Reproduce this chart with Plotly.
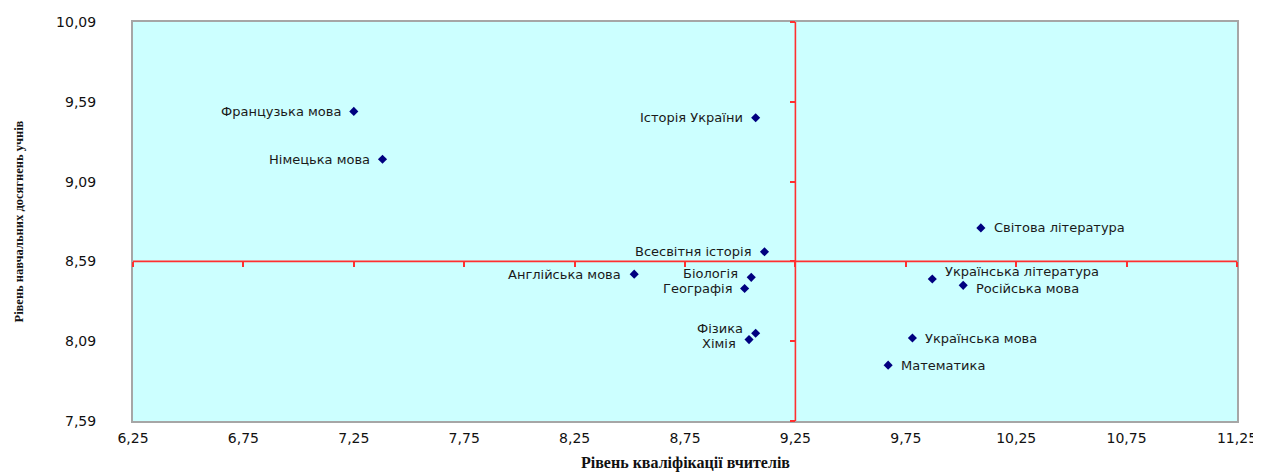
import plotly.graph_objects as go

# ---- data ----
subjects = [
    "Французька мова", "Німецька мова", "Історія України", "Всесвітня історія",
    "Англійська мова", "Біологія", "Географія", "Фізика", "Хімія",
    "Світова література", "Українська література", "Російська мова",
    "Українська мова", "Математика",
]
teacher_qualification = [7.25, 7.38, 9.07, 9.11, 8.52, 9.05, 9.02, 9.07, 9.04,
                         10.09, 9.87, 10.01, 9.78, 9.67]
student_achievement = [9.53, 9.23, 9.49, 8.65, 8.51, 8.49, 8.42, 8.14, 8.10,
                       8.80, 8.48, 8.44, 8.11, 7.94]

x_range = [6.25, 11.25]
y_range = [7.59, 10.09]
cross_x = 9.25   # vertical axis crossing
cross_y = 8.59   # horizontal axis crossing
tick_step = 0.5

x_title = "Рівень кваліфікації вчителів"
y_title = "Рівень навчальних досягнень учнів"

# ---- label placement (style) ----
right_side = {"Світова література", "Українська література", "Російська мова",
              "Українська мова", "Математика"}
label_yshift = {"Біологія": 4, "Фізика": 5, "Українська література": 7,
                "Російська мова": -3, "Хімія": -4}

RED = "#ff3030"
LABEL_FONT = dict(family="DejaVu Sans", size=13, color="#1a1a1a")
TICK_FONT = dict(family="DejaVu Sans", size=14, color="#111111")
TITLE_FONT_X = dict(family="Liberation Serif", size=16, color="#111111")
TITLE_FONT_Y = dict(family="Liberation Serif", size=12.5, color="#111111")

# the page body adds an 8px offset; size the figure so it fills the window
PAGE_OFFSET = 8
FIG_W, FIG_H = 1261 - PAGE_OFFSET, 472 - PAGE_OFFSET

fig = go.Figure()
fig.add_trace(go.Scatter(
    x=teacher_qualification, y=student_achievement, mode="markers",
    marker=dict(symbol="diamond", size=7, color="#000080"),
    text=subjects, hoverinfo="text", showlegend=False,
))
# empty trace to host the crossing axes (their ticks)
fig.add_trace(go.Scatter(x=[], y=[], xaxis="x2", yaxis="y2",
                         showlegend=False, hoverinfo="skip"))

annotations = []
for name, xv, yv in zip(subjects, teacher_qualification, student_achievement):
    on_right = name in right_side
    annotations.append(dict(
        x=xv, y=yv, xref="x", yref="y", text=name, showarrow=False,
        xanchor="left" if on_right else "right", yanchor="middle",
        xshift=11 if on_right else -11, yshift=label_yshift.get(name, 0),
        font=LABEL_FONT,
    ))
annotations.append(dict(
    text="<b>" + y_title + "</b>", xref="paper", yref="paper",
    x=0, y=0.5, xshift=-115, showarrow=False, textangle=-90,
    xanchor="center", yanchor="middle", font=TITLE_FONT_Y,
))
annotations.append(dict(
    text="<b>" + x_title + "</b>", xref="paper", yref="paper",
    x=0.5, y=0, yshift=-42, showarrow=False,
    xanchor="center", yanchor="middle", font=TITLE_FONT_X,
))

shapes = [
    dict(type="line", xref="x", yref="paper", x0=cross_x, x1=cross_x, y0=0, y1=1,
         line=dict(color=RED, width=1.6), layer="above"),
    dict(type="line", xref="paper", yref="y", x0=0, x1=1, y0=cross_y, y1=cross_y,
         line=dict(color=RED, width=1.6), layer="above"),
]

common_axis = dict(showgrid=False, zeroline=False, fixedrange=True, automargin=False)

fig.update_layout(
    width=FIG_W, height=FIG_H,
    margin=dict(l=133 - PAGE_OFFSET, r=24, t=22 - PAGE_OFFSET, b=51, autoexpand=False),
    paper_bgcolor="white", plot_bgcolor="#ccffff",
    separators=", ",
    annotations=annotations,
    shapes=shapes,
    xaxis=dict(range=x_range, tick0=x_range[0], dtick=tick_step, tickformat=".2f",
               showline=True, mirror=True, linecolor="#a6a6a6", linewidth=2,
               ticks="", ticklabelstandoff=3, tickfont=TICK_FONT, **common_axis),
    yaxis=dict(range=y_range, tick0=y_range[0], dtick=tick_step, tickformat=".2f",
               showline=True, mirror=True, linecolor="#a6a6a6", linewidth=2,
               ticks="", ticklabelstandoff=32, tickfont=TICK_FONT, **common_axis),
    xaxis2=dict(range=x_range, tick0=x_range[0], dtick=tick_step, overlaying="x",
                anchor="free", side="bottom",
                position=(cross_y - y_range[0]) / (y_range[1] - y_range[0]),
                showline=False,
                ticks="outside", ticklen=5, tickwidth=1.5, tickcolor=RED,
                showticklabels=False, **common_axis),
    yaxis2=dict(range=y_range, tick0=y_range[0], dtick=tick_step, overlaying="y",
                anchor="free", side="left",
                position=(cross_x - x_range[0]) / (x_range[1] - x_range[0]),
                showline=False,
                ticks="outside", ticklen=5, tickwidth=1.5, tickcolor=RED,
                showticklabels=False, **common_axis),
)

fig.write_html("out.html")
